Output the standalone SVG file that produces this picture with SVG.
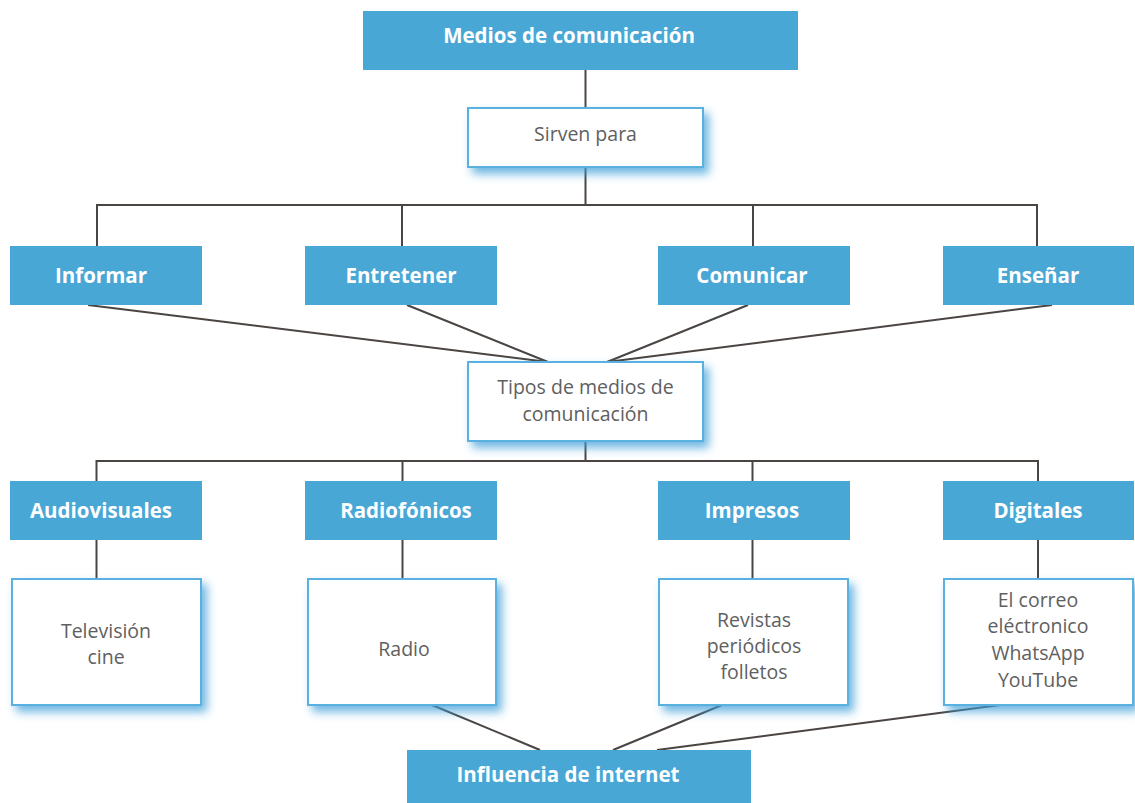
<svg xmlns="http://www.w3.org/2000/svg" width="1135" height="803" viewBox="0 0 1135 803">
<style>
.blue{fill:#49a7d6}
.card{fill:#fff;stroke:#5ab1e0;stroke-width:2;filter:url(#sh)}
.lbl{font-family:"Open Sans","Liberation Sans",sans-serif;font-weight:700;font-size:20.5px;fill:#fff;text-anchor:middle}
.txt{font-family:"Open Sans","Liberation Sans",sans-serif;font-size:19.5px;fill:#606060;text-anchor:middle}
.ln{stroke:#4a4542;stroke-width:2;fill:none}
</style>
<defs>
<filter id="sh" x="-10%" y="-10%" width="130%" height="140%">
<feDropShadow dx="5" dy="6" stdDeviation="5" flood-color="#3d9fd8" flood-opacity="0.75"/>
</filter>
</defs>
<rect width="1135" height="803" fill="#fff"/>
<g id="connectors" class="ln">
<line x1="585.5" y1="70" x2="585.5" y2="108"/>
<line x1="585.5" y1="167" x2="585.5" y2="205"/>
<polyline points="97,246 97,205 1037,205 1037,246"/>
<line x1="402" y1="205" x2="402" y2="246"/>
<line x1="753" y1="205" x2="753" y2="246"/>
<line x1="88" y1="305" x2="548" y2="362"/>
<line x1="407" y1="305" x2="548" y2="362"/>
<line x1="748" y1="305" x2="607" y2="362"/>
<line x1="1052" y1="305" x2="607" y2="362"/>
<line x1="585.5" y1="441" x2="585.5" y2="461"/>
<polyline points="96.5,481 96.5,461 1038,461 1038,481"/>
<line x1="402.5" y1="461" x2="402.5" y2="481"/>
<line x1="752.5" y1="461" x2="752.5" y2="481"/>
<line x1="96.5" y1="540" x2="96.5" y2="579"/>
<line x1="402.5" y1="540" x2="402.5" y2="579"/>
<line x1="752.5" y1="540" x2="752.5" y2="579"/>
<line x1="1038" y1="540" x2="1038" y2="579"/>
<line x1="432" y1="705" x2="540" y2="750"/>
<line x1="722" y1="705" x2="613" y2="750"/>
<line x1="1000" y1="705" x2="657" y2="750"/>
</g>
<g id="medios"><rect class="blue" x="363" y="11" width="435" height="59"/><text class="lbl" x="569" y="43">Medios de comunicación</text></g>
<g id="sirven"><rect class="card" x="468" y="108" width="235" height="59"/><text class="txt" x="585.5" y="141">Sirven para</text></g>
<g id="informar"><rect class="blue" x="10" y="246" width="192" height="59"/><text class="lbl" x="101" y="283">Informar</text></g>
<g id="entretener"><rect class="blue" x="305" y="246" width="192" height="59"/><text class="lbl" x="401" y="283">Entretener</text></g>
<g id="comunicar"><rect class="blue" x="658" y="246" width="192" height="59"/><text class="lbl" x="752" y="283">Comunicar</text></g>
<g id="ensenar"><rect class="blue" x="943" y="246" width="191" height="59"/><text class="lbl" x="1038" y="283">Enseñar</text></g>
<g id="tipos"><rect class="card" x="468" y="362" width="235" height="79"/><text class="txt" x="585.5" y="394">Tipos de medios de</text><text class="txt" x="585.5" y="421">comunicación</text></g>
<g id="audiovisuales"><rect class="blue" x="10" y="481" width="192" height="59"/><text class="lbl" x="101" y="518">Audiovisuales</text></g>
<g id="radiofonicos"><rect class="blue" x="305" y="481" width="192" height="59"/><text class="lbl" x="406" y="518">Radiofónicos</text></g>
<g id="impresos"><rect class="blue" x="658" y="481" width="192" height="59"/><text class="lbl" x="752" y="518">Impresos</text></g>
<g id="digitales"><rect class="blue" x="943" y="481" width="191" height="59"/><text class="lbl" x="1038" y="518">Digitales</text></g>
<g id="television"><rect class="card" x="12" y="579" width="189" height="126"/><text class="txt" x="106" y="638">Televisión</text><text class="txt" x="106" y="664">cine</text></g>
<g id="radio"><rect class="card" x="308" y="579" width="188" height="126"/><text class="txt" x="404" y="656">Radio</text></g>
<g id="revistas"><rect class="card" x="659" y="579" width="189" height="126"/><text class="txt" x="754" y="627">Revistas</text><text class="txt" x="754" y="653">periódicos</text><text class="txt" x="754" y="679">folletos</text></g>
<g id="correo"><rect class="card" x="944" y="579" width="189" height="126"/><text class="txt" x="1038" y="607">El correo</text><text class="txt" x="1038" y="633">eléctronico</text><text class="txt" x="1038" y="660">WhatsApp</text><text class="txt" x="1038" y="687">YouTube</text></g>
<g id="influencia"><rect class="blue" x="407" y="750" width="344" height="53"/><text class="lbl" x="568" y="782">Influencia de internet</text></g>
</svg>
